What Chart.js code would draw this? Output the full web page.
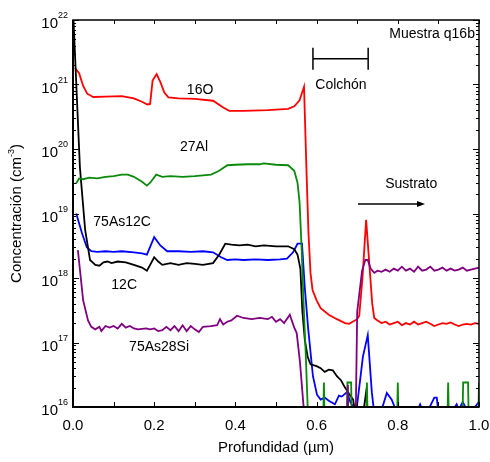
<!DOCTYPE html>
<html>
<head>
<meta charset="utf-8">
<script src="https://cdn.jsdelivr.net/npm/chart.js@4.4.0/dist/chart.umd.min.js"></script>
<style>
  html, body { margin: 0; padding: 0; background: #fff; }
  #wrap { width: 490px; height: 462px; }
</style>
</head>
<body>
<div id="wrap"><canvas id="sims"></canvas></div>
<script>
// ---- données (profondeur en µm, concentration en cm-3) ----
const oDepth = [0.005, 0.015, 0.025, 0.035, 0.05, 0.08, 0.12, 0.15, 0.17, 0.183, 0.19, 0.196, 0.206, 0.215, 0.225, 0.235, 0.26, 0.30, 0.345, 0.37, 0.385, 0.42, 0.48, 0.53, 0.545, 0.558, 0.569, 0.576, 0.58, 0.585, 0.59, 0.60, 0.61, 0.63, 0.65, 0.67, 0.68, 0.70, 0.705, 0.713, 0.722, 0.73, 0.737, 0.742, 0.75, 0.76, 0.77, 0.78, 0.79, 0.80, 0.81, 0.82, 0.83, 0.84, 0.85, 0.86, 0.87, 0.88, 0.89, 0.90, 0.91, 0.92, 0.93, 0.94, 0.95, 0.96, 0.97, 0.98, 0.99, 1.0];
const oConc = [1.8e21, 1.5e21, 9.5e20, 7.2e20, 6.4e20, 6.5e20, 6.6e20, 6.1e20, 5.4e20, 4.9e20, 5.0e20, 1.15e21, 1.45e21, 1.1e21, 7.5e20, 6.3e20, 6.1e20, 6.0e20, 5.6e20, 4.4e20, 3.9e20, 3.9e20, 4.0e20, 4.2e20, 4.6e20, 5.7e20, 9.2e20, 3e19, 5e18, 1.2e18, 6.5e17, 4.5e17, 3.4e17, 2.7e17, 2.3e17, 2.0e17, 1.95e17, 2.3e17, 2.6e17, 1.0e18, 8.0e18, 1.6e18, 4e17, 2.4e17, 2.2e17, 2.0e17, 2.1e17, 1.9e17, 2.0e17, 2.1e17, 1.85e17, 2.0e17, 1.9e17, 2.1e17, 1.9e17, 2.0e17, 2.1e17, 1.95e17, 1.8e17, 1.9e17, 2.0e17, 1.95e17, 2.05e17, 1.9e17, 1.8e17, 1.9e17, 1.95e17, 1.9e17, 2.0e17, 1.95e17];

const alDepth = [0.007, 0.015, 0.025, 0.04, 0.06, 0.08, 0.10, 0.12, 0.135, 0.15, 0.17, 0.182, 0.19, 0.205, 0.22, 0.24, 0.27, 0.30, 0.34, 0.36, 0.38, 0.40, 0.43, 0.46, 0.47, 0.50, 0.53, 0.545, 0.553, 0.558, 0.563, 0.568, 0.574, 0.578, 0.585, 0.608, 0.618, 0.628, 0.665, 0.676, 0.685, 0.695, 0.714, 0.724, 0.734, 0.79, 0.80, 0.81, 0.914, 0.924, 0.934, 0.951, 0.961, 0.973, 0.983, 0.99, 1.0];
const alConc = [2.9e19, 3.5e19, 3.4e19, 3.6e19, 3.5e19, 3.7e19, 3.8e19, 4.0e19, 4.0e19, 3.7e19, 3.1e19, 2.7e19, 3.0e19, 4.0e19, 3.7e19, 3.8e19, 3.7e19, 3.8e19, 4.0e19, 4.6e19, 5.6e19, 5.7e19, 5.8e19, 5.8e19, 6.0e19, 5.7e19, 5.6e19, 4.6e19, 3.0e19, 1.5e19, 3e18, 4e17, 5e16, 1e16, 1e13, 1e13, 2.4e16, 1e13, 1e13, 2.4e16, 2.4e16, 1e13, 1e13, 2.4e16, 1e13, 1e13, 2.4e16, 1e13, 1e13, 2.4e16, 1e13, 1e13, 2.4e16, 2.4e16, 1e13, 1e13, 2.4e16];

const cDepth = [0.0, 0.017, 0.03, 0.042, 0.055, 0.065, 0.075, 0.085, 0.095, 0.11, 0.13, 0.15, 0.17, 0.182, 0.19, 0.20, 0.21, 0.22, 0.24, 0.26, 0.28, 0.30, 0.32, 0.345, 0.36, 0.375, 0.39, 0.41, 0.43, 0.45, 0.47, 0.50, 0.53, 0.545, 0.553, 0.56, 0.565, 0.571, 0.578, 0.585, 0.60, 0.61, 0.62, 0.63, 0.64, 0.65, 0.66, 0.67, 0.68, 0.69, 0.70, 0.712, 0.722, 0.73, 0.74];
const cConc = [1.5e22, 5.2e19, 5.5e18, 1.9e18, 1.6e18, 1.55e18, 1.75e18, 1.8e18, 1.7e18, 1.8e18, 1.75e18, 1.6e18, 1.45e18, 1.3e18, 1.6e18, 2.1e18, 1.8e18, 1.6e18, 1.7e18, 1.6e18, 1.7e18, 1.65e18, 1.6e18, 1.7e18, 2.3e18, 3.4e18, 3.3e18, 3.2e18, 3.3e18, 3.1e18, 3.2e18, 3.1e18, 3.1e18, 2.8e18, 2.3e18, 1.4e18, 3e17, 1.1e17, 6e16, 4.6e16, 4.3e16, 4.0e16, 3.5e16, 3.8e16, 3.7e16, 3.0e16, 2.6e16, 2.0e16, 1.6e16, 1.3e16, 5e15, 6e15, 1.7e16, 3e15, 1e13];

const asCDepth = [0.008, 0.022, 0.034, 0.045, 0.06, 0.08, 0.10, 0.12, 0.15, 0.17, 0.182, 0.20, 0.215, 0.232, 0.26, 0.29, 0.32, 0.345, 0.365, 0.38, 0.40, 0.42, 0.45, 0.48, 0.51, 0.527, 0.542, 0.553, 0.564, 0.571, 0.579, 0.591, 0.601, 0.61, 0.62, 0.63, 0.645, 0.655, 0.662, 0.675, 0.683, 0.69, 0.70, 0.714, 0.726, 0.736, 0.742, 0.76, 0.773, 0.785, 0.795, 0.82, 0.845, 0.855, 0.86, 0.875, 0.89, 0.896, 0.90, 0.93, 0.945, 0.95, 0.96, 0.97, 0.99, 1.0];
const asCConc = [1.0e19, 5e18, 3e18, 2.6e18, 2.55e18, 2.6e18, 2.55e18, 2.6e18, 2.5e18, 2.4e18, 2.3e18, 4.3e18, 3.2e18, 2.6e18, 2.6e18, 2.55e18, 2.6e18, 2.5e18, 2.1e18, 1.9e18, 1.95e18, 1.9e18, 1.95e18, 1.9e18, 1.95e18, 2.0e18, 2.5e18, 3.4e18, 3.4e18, 7e17, 1.7e17, 3e16, 1.55e16, 1.3e16, 1.4e16, 1.25e16, 1.1e16, 1.5e16, 1.45e16, 1.7e16, 1.2e16, 1e16, 1.1e16, 6e16, 1.3e17, 1.7e16, 8e15, 9e15, 1.65e16, 1.3e16, 9e15, 8e15, 8e15, 1.1e16, 9e15, 9e15, 1.4e16, 1.4e16, 8e15, 8e15, 1.1e16, 9e15, 1.2e16, 9e15, 1e16, 1.2e16];

const asSiDepth = [0.012, 0.025, 0.037, 0.045, 0.055, 0.065, 0.07, 0.08, 0.09, 0.10, 0.11, 0.12, 0.13, 0.14, 0.15, 0.16, 0.18, 0.19, 0.20, 0.21, 0.22, 0.23, 0.24, 0.25, 0.26, 0.27, 0.28, 0.29, 0.30, 0.31, 0.32, 0.34, 0.355, 0.362, 0.37, 0.38, 0.39, 0.404, 0.42, 0.44, 0.46, 0.48, 0.49, 0.50, 0.51, 0.52, 0.534, 0.545, 0.551, 0.559, 0.568, 0.575, 0.668, 0.677, 0.684, 0.69, 0.70, 0.712, 0.72, 0.726, 0.733, 0.742, 0.75, 0.76, 0.77, 0.78, 0.79, 0.80, 0.81, 0.82, 0.83, 0.84, 0.85, 0.86, 0.87, 0.88, 0.89, 0.90, 0.91, 0.92, 0.93, 0.94, 0.95, 0.96, 0.97, 0.98, 0.99, 1.0];
const asSiConc = [2.7e18, 4.5e17, 2.2e17, 1.75e17, 1.6e17, 1.75e17, 1.5e17, 1.8e17, 1.7e17, 1.8e17, 1.65e17, 1.95e17, 1.7e17, 1.8e17, 1.65e17, 1.6e17, 1.65e17, 1.6e17, 1.65e17, 1.5e17, 1.55e17, 1.75e17, 1.55e17, 1.8e17, 1.5e17, 1.85e17, 1.5e17, 1.8e17, 1.6e17, 1.45e17, 1.75e17, 1.8e17, 1.85e17, 2.3e17, 1.9e17, 2.1e17, 2.2e17, 2.6e17, 2.4e17, 2.3e17, 2.4e17, 2.3e17, 2.5e17, 2.1e17, 2.3e17, 2.0e17, 2.7e17, 1.7e17, 1.4e17, 5e16, 1e16, 1e13, 1e13, 2.2e16, 1e13, 1e13, 3e17, 1.3e18, 1.9e18, 1.9e18, 1.4e18, 1.2e18, 1.3e18, 1.25e18, 1.35e18, 1.25e18, 1.4e18, 1.3e18, 1.5e18, 1.3e18, 1.4e18, 1.25e18, 1.5e18, 1.3e18, 1.35e18, 1.5e18, 1.3e18, 1.35e18, 1.45e18, 1.3e18, 1.4e18, 1.3e18, 1.35e18, 1.45e18, 1.3e18, 1.35e18, 1.4e18, 1.45e18];

// graduations des axes
const xTickLabels = ['0.0', '0.2', '0.4', '0.6', '0.8', '1.0'];
const xTickValues = [0, 0.2, 0.4, 0.6, 0.8, 1.0];
const yDecades = [16, 17, 18, 19, 20, 21, 22];

// étiquettes placées en coordonnées de données
const labels = [
    { text: '16O', x: 0.313, y: 8.2e20 },
    { text: '27Al', x: 0.298, y: 1.07e20 },
    { text: '75As12C', x: 0.121, y: 7.4e18 },
    { text: '12C', x: 0.126, y: 7.8e17 },
    { text: '75As28Si', x: 0.212, y: 8.5e16 },
    { text: 'Colchón', x: 0.66, y: 9.8e20 },
    { text: 'Sustrato', x: 0.833, y: 2.9e19 }
];

function toPoints(xs, ys) {
    return xs.map((x, i) => ({ x: x, y: ys[i] }));
}

function serie(label, xs, ys, color) {
    return {
        label: label,
        data: toPoints(xs, ys),
        borderColor: color,
        backgroundColor: color,
        borderWidth: 1.8,
        pointRadius: 0,
        showLine: true,
        tension: 0
    };
}

/**
 * Dessine le cadre, les graduations et les annotations
 */
const decorPlugin = {
    id: 'decor',
    afterDraw(chart) {
        const ctx = chart.ctx;
        const a = chart.chartArea;
        const xs = chart.scales.x;
        const ys = chart.scales.y;
        const font = size => size + 'px "Liberation Sans", Arial, sans-serif';
        ctx.save();
        ctx.strokeStyle = '#000';
        ctx.fillStyle = '#000';

        // cadre
        ctx.lineWidth = 1.5;
        ctx.strokeRect(a.left, a.top, a.right - a.left, a.bottom - a.top);
        ctx.lineWidth = 2;
        ctx.beginPath();
        ctx.moveTo(a.left, a.top);
        ctx.lineTo(a.left, a.bottom);
        ctx.lineTo(a.right, a.bottom);
        ctx.stroke();

        // graduations Y (log), vers l'intérieur
        ctx.lineWidth = 1;
        ctx.beginPath();
        yDecades.forEach(d => {
            for (let m = 1; m <= 9; m++) {
                if (d === 22 && m > 1) break;
                const py = Math.round(ys.getPixelForValue(m * Math.pow(10, d))) + 0.5;
                const len = m === 1 ? 6 : 3;
                ctx.moveTo(a.left, py);
                ctx.lineTo(a.left + len, py);
                ctx.moveTo(a.right, py);
                ctx.lineTo(a.right - len, py);
            }
        });
        // graduations X
        for (let i = 0; i <= 10; i++) {
            const px = Math.round(xs.getPixelForValue(i / 10)) + 0.5;
            ctx.moveTo(px, a.bottom);
            ctx.lineTo(px, a.bottom - 5);
            ctx.moveTo(px, a.top);
            ctx.lineTo(px, a.top + 4);
        }
        ctx.stroke();

        // libellés X
        ctx.font = font(15);
        ctx.textAlign = 'center';
        ctx.textBaseline = 'top';
        xTickValues.forEach((v, i) => {
            ctx.fillText(xTickLabels[i], xs.getPixelForValue(v), a.bottom + 11);
        });

        // libellés Y : 10 avec exposant
        yDecades.forEach(d => {
            const py = ys.getPixelForValue(Math.pow(10, d));
            ctx.font = font(9);
            const ew = ctx.measureText(String(d)).width;
            ctx.textAlign = 'left';
            ctx.textBaseline = 'alphabetic';
            ctx.fillText(String(d), a.left - 5 - ew, py - 2);
            ctx.font = font(15);
            ctx.textAlign = 'right';
            ctx.fillText('10', a.left - 5 - ew, py + 8);
        });

        // titres des axes
        ctx.font = font(15);
        ctx.textAlign = 'center';
        ctx.textBaseline = 'middle';
        ctx.fillText('Profundidad (µm)', (a.left + a.right) / 2, 448);

        ctx.save();
        ctx.translate(17, (a.top + a.bottom) / 2);
        ctx.rotate(-Math.PI / 2);
        const base = 'Concentración (cm';
        ctx.font = font(15);
        const bw = ctx.measureText(base).width;
        const cw = ctx.measureText(')').width;
        ctx.font = font(9);
        const sw = ctx.measureText('-3').width;
        const start = -(bw + sw + cw) / 2;
        ctx.textAlign = 'left';
        ctx.font = font(15);
        ctx.fillText(base, start, 0);
        ctx.fillText(')', start + bw + sw, 0);
        ctx.font = font(9);
        ctx.fillText('-3', start + bw, -5);
        ctx.restore();

        // annotations
        ctx.font = font(14);
        ctx.textAlign = 'center';
        ctx.textBaseline = 'middle';
        labels.forEach(l => {
            ctx.fillText(l.text, xs.getPixelForValue(l.x), ys.getPixelForValue(l.y));
        });
        ctx.textAlign = 'right';
        ctx.fillText('Muestra q16b', xs.getPixelForValue(0.99), ys.getPixelForValue(6e21));

        // intervalle "Colchón"
        const bx1 = xs.getPixelForValue(0.591), bx2 = xs.getPixelForValue(0.727);
        const by = ys.getPixelForValue(2.5e21);
        ctx.lineWidth = 1.5;
        ctx.beginPath();
        ctx.moveTo(bx1, by); ctx.lineTo(bx2, by);
        ctx.moveTo(bx1, by - 11); ctx.lineTo(bx1, by + 11);
        ctx.moveTo(bx2, by - 11); ctx.lineTo(bx2, by + 11);
        ctx.stroke();

        // flèche "Sustrato"
        const ax1 = xs.getPixelForValue(0.702), ax2 = xs.getPixelForValue(0.867);
        const ay = ys.getPixelForValue(1.4e19);
        ctx.beginPath();
        ctx.moveTo(ax1, ay); ctx.lineTo(ax2 - 6, ay);
        ctx.stroke();
        ctx.beginPath();
        ctx.moveTo(ax2, ay); ctx.lineTo(ax2 - 8, ay - 3); ctx.lineTo(ax2 - 8, ay + 3);
        ctx.closePath();
        ctx.fill();

        ctx.restore();
    }
};

const chart = new Chart(document.getElementById('sims'), {
    type: 'scatter',
    data: {
        datasets: [
            serie('75As28Si', asSiDepth, asSiConc, '#800080'),
            serie('27Al', alDepth, alConc, '#0a8a0a'),
            serie('12C', cDepth, cConc, '#000000'),
            serie('75As12C', asCDepth, asCConc, '#0000ff'),
            serie('16O', oDepth, oConc, '#ff0000')
        ]
    },
    options: {
        responsive: true,
        maintainAspectRatio: false,
        animation: false,
        layout: { padding: { top: 20, right: 11, left: 0, bottom: 0 } },
        plugins: {
            legend: { display: false },
            tooltip: { enabled: false }
        },
        scales: {
            x: {
                type: 'linear',
                min: 0,
                max: 1,
                grid: { display: false },
                border: { display: false },
                ticks: { display: false },
                afterFit(scale) { scale.height = 55; }
            },
            y: {
                type: 'logarithmic',
                min: 1e16,
                max: 1e22,
                grid: { display: false },
                border: { display: false },
                ticks: { display: false },
                afterFit(scale) { scale.width = 73; }
            }
        }
    },
    plugins: [decorPlugin]
});
</script>
</body>
</html>
